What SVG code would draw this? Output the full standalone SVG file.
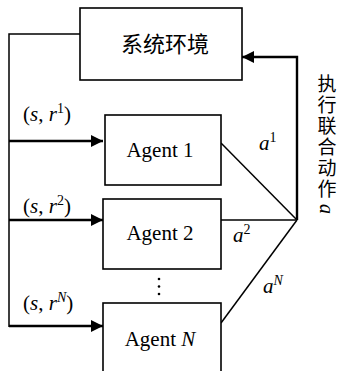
<svg xmlns="http://www.w3.org/2000/svg" width="339" height="371" viewBox="0 0 339 371">
<defs>
<marker id="ah" viewBox="0 0 10 10" refX="10" refY="5" markerWidth="6" markerHeight="5" markerUnits="strokeWidth" orient="auto"><path d="M0,0 L10,5 L0,10 z" fill="#000"/></marker>
<style>
.box{fill:#fff;stroke:#000;stroke-width:1.6}
.thick{fill:none;stroke:#000;stroke-width:2.4}
.thin{fill:none;stroke:#000;stroke-width:1.5}
.en{font-family:"Liberation Serif",serif;font-size:21px;fill:#000}
.it{font-style:italic}
.cn{font-family:"Noto Sans CJK SC",sans-serif;font-size:22px;fill:#000}
.vc{font-family:"Noto Sans CJK SC",sans-serif;font-size:19px;fill:#000;writing-mode:vertical-rl;letter-spacing:2px}
.sup{font-size:14px}
</style>
</defs>
<rect width="339" height="371" fill="#fff"/>
<g id="connectors">
<path class="thin" d="M80,34 H9 V327"/>
<path class="thick" d="M9,141 H103" marker-end="url(#ah)"/>
<path class="thick" d="M9,220 H103" marker-end="url(#ah)"/>
<path class="thick" d="M9,326 H103" marker-end="url(#ah)"/>
<path class="thick" d="M297,220 V57 H242" marker-end="url(#ah)"/>
<path class="thin" d="M221,143 L297,220"/>
<path class="thin" d="M221,220 H297"/>
<path class="thin" d="M221,323 L297,220"/>
</g>
<g id="env">
<rect class="box" x="80" y="8" width="162" height="72"/>
<text class="cn" x="165" y="52" text-anchor="middle">系统环境</text>
</g>
<g id="agent1">
<rect class="box" x="105" y="115" width="116" height="70"/>
<text class="en" x="160" y="157" text-anchor="middle">Agent 1</text>
</g>
<g id="agent2">
<rect class="box" x="103" y="199" width="118" height="70"/>
<text class="en" x="160" y="240" text-anchor="middle">Agent 2</text>
</g>
<g id="agentN">
<rect class="box" x="103" y="303" width="118" height="75"/>
<text class="en" x="160" y="346" text-anchor="middle">Agent <tspan class="it">N</tspan></text>
</g>
<g id="dots" fill="#000">
<circle cx="159" cy="279" r="1.3"/>
<circle cx="159" cy="286.5" r="1.3"/>
<circle cx="159" cy="294" r="1.3"/>
</g>
<g id="labels">
<text class="en" x="23" y="121">(<tspan class="it">s</tspan>, <tspan class="it">r</tspan><tspan class="sup" dy="-8">1</tspan><tspan dy="8">)</tspan></text>
<text class="en" x="23" y="213">(<tspan class="it">s</tspan>, <tspan class="it">r</tspan><tspan class="sup" dy="-8">2</tspan><tspan dy="8">)</tspan></text>
<text class="en" x="23" y="310">(<tspan class="it">s</tspan>, <tspan class="it">r</tspan><tspan class="sup it" dy="-8">N</tspan><tspan dy="8">)</tspan></text>
<text class="en it" x="259" y="150">a<tspan class="sup" style="font-style:normal" dy="-8">1</tspan></text>
<text class="en it" x="233" y="242">a<tspan class="sup" style="font-style:normal" dy="-8">2</tspan></text>
<text class="en it" x="263" y="293">a<tspan class="sup" dy="-8">N</tspan></text>
</g>
<g id="action-label">
<text class="vc" x="327" y="74">执行联合动作<tspan dy="4" style="font-family:'Liberation Serif',serif;font-style:italic;font-size:20px">a</tspan></text>
</g>
</svg>
